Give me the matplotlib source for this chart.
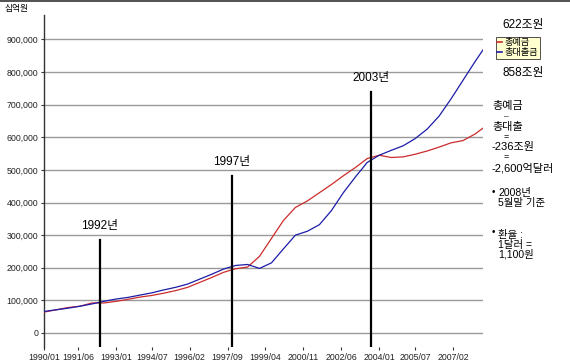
import numpy as np
import matplotlib
matplotlib.use("Agg")
import matplotlib.pyplot as plt
from matplotlib.lines import Line2D

plt.rcParams["font.family"] = ["Liberation Sans", "Noto Sans CJK KR", "DejaVu Sans"]

# sampled months (YYYY/MM) and values in 십억원
dates = ["1990/01", "1990/07", "1991/01", "1991/07", "1992/01", "1992/07",
         "1993/01", "1993/07", "1994/01", "1994/07", "1995/01", "1995/07",
         "1996/01", "1996/07", "1997/01", "1997/07", "1998/01", "1998/07",
         "1999/01", "1999/07", "2000/01", "2000/07", "2001/01", "2001/07",
         "2002/01", "2002/07", "2003/01", "2003/07", "2004/01", "2004/07",
         "2005/01", "2005/07", "2006/01", "2006/07", "2007/01", "2007/07",
         "2008/01", "2008/05"]
deposits = [64000, 71000, 78000, 82000, 92000, 92000,
            97000, 103000, 110000, 115000, 122000, 130000,
            140000, 155000, 170000, 186000, 197000, 202000,
            235000, 290000, 345000, 385000, 405000, 430000,
            455000, 482000, 507000, 535000, 545000, 538000,
            540000, 548000, 558000, 570000, 583000, 590000,
            610000, 628000]
loans = [66000, 71000, 76000, 82000, 89000, 97000,
         104000, 109000, 116000, 123000, 132000, 140000,
         150000, 165000, 180000, 196000, 207000, 210000,
         198000, 215000, 258000, 300000, 312000, 332000,
         375000, 430000, 478000, 523000, 545000, 560000,
         574000, 596000, 625000, 665000, 718000, 775000,
         832000, 868000]

tick_dates = ["1990/01", "1991/06", "1993/01", "1994/07", "1996/02", "1997/09",
              "1999/04", "2000/11", "2002/06", "2004/01", "2005/07", "2007/02"]

event_labels = ["1992년", "1997년", "2003년"]
event_dates = ["1992/05", "1997/11", "2003/09"]
event_tops = [285000, 481000, 739000]

yticks = [0, 100000, 200000, 300000, 400000, 500000, 600000, 700000, 800000, 900000]


def month_idx(s):
    y, m = s.split("/")
    return (int(y) - 1990) * 12 + int(m) - 1


x = [month_idx(d) for d in dates]

fig = plt.figure(figsize=(5.70, 3.63), dpi=100)
ax = fig.add_axes([44 / 570, 1 - 347 / 363, (483 - 44) / 570, (347 - 15) / 363])

ax.set_xlim(0, 220)
ax.set_ylim(-43000, 975000)
for v in yticks:
    ax.axhline(v, color="#9a9a9a", linewidth=1.0, zorder=1)

ax.plot(x, deposits, color="#cc2b2b", linewidth=0.9, zorder=3, label="총예금")
ax.plot(x, loans, color="#1c1ca8", linewidth=0.9, zorder=3, label="총대출금")

for lab, d, top in zip(event_labels, event_dates, event_tops):
    xi = month_idx(d)
    ax.plot([xi, xi], [-43000, top], color="black", linewidth=1.6, zorder=4)
    ax.text(xi, top + 25000, lab, ha="center", va="bottom", fontsize=8.5)

ax.set_yticks(yticks)
ax.set_yticklabels([f"{v:,}" for v in yticks], fontsize=6.3, color="#222222")
ax.set_xticks([month_idx(d) for d in tick_dates])
ax.set_xticklabels(tick_dates, fontsize=6.3, color="#222222")
ax.tick_params(axis="y", length=2.5, width=0.8, pad=1.5, color="#333333")
ax.tick_params(axis="x", length=2.5, width=0.8, pad=1.5, color="#333333")

for side in ("top", "right", "bottom"):
    ax.spines[side].set_visible(False)
ax.spines["left"].set_color("#333333")
ax.spines["left"].set_linewidth(1.0)

fig.text(5 / 570, 1 - 8 / 363, "십억원", fontsize=6.3, va="center", ha="left")

# legend box on the right
handles = [Line2D([], [], color="#cc2b2b", linewidth=1.2),
           Line2D([], [], color="#1c1ca8", linewidth=1.2)]
leg = fig.legend(handles, ["총예금", "총대출금"], loc="upper left",
                 bbox_to_anchor=(496 / 570, 1 - 37 / 363), fontsize=6.6,
                 handlelength=0.55, handletextpad=0.25, borderpad=0.15,
                 borderaxespad=0, labelspacing=0.1, fancybox=False, framealpha=1)
leg.get_frame().set_facecolor("#ffffd0")
leg.get_frame().set_edgecolor("#333333")
leg.get_frame().set_linewidth(0.6)

rx = 492 / 570
fig.text(523 / 570, 1 - 25 / 363, "622조원", fontsize=8.5, ha="center", va="center")
fig.text(523 / 570, 1 - 73 / 363, "858조원", fontsize=8.5, ha="center", va="center")
fig.text(rx, 1 - 106 / 363, "총예금", fontsize=8, ha="left", va="center")
fig.text(506 / 570, 1 - 117 / 363, "–", fontsize=6, ha="center", va="center")
fig.text(rx, 1 - 127 / 363, "총대출", fontsize=8, ha="left", va="center")
fig.text(506 / 570, 1 - 137 / 363, "=", fontsize=6.5, ha="center", va="center")
fig.text(rx, 1 - 147 / 363, "-236조원", fontsize=8, ha="left", va="center")
fig.text(506 / 570, 1 - 157 / 363, "=", fontsize=6.5, ha="center", va="center")
fig.text(rx, 1 - 168 / 363, "-2,600억달러", fontsize=8, ha="left", va="center")
fig.text(rx, 1 - 192 / 363, "•", fontsize=7, ha="left", va="center")
fig.text(498 / 570, 1 - 198 / 363, "2008년\n5월말 기준", fontsize=7.5, ha="left",
         va="center", linespacing=0.95)
fig.text(rx, 1 - 232 / 363, "•", fontsize=7, ha="left", va="center")
fig.text(498 / 570, 1 - 245 / 363, "환율 :\n1달러 =\n1,100원", fontsize=7.5, ha="left",
         va="center", linespacing=0.95)

fig.add_artist(Line2D([0, 1], [0.998, 0.998], color="#333333", linewidth=1.2))

fig.savefig("out.png", dpi=100, facecolor="white")
